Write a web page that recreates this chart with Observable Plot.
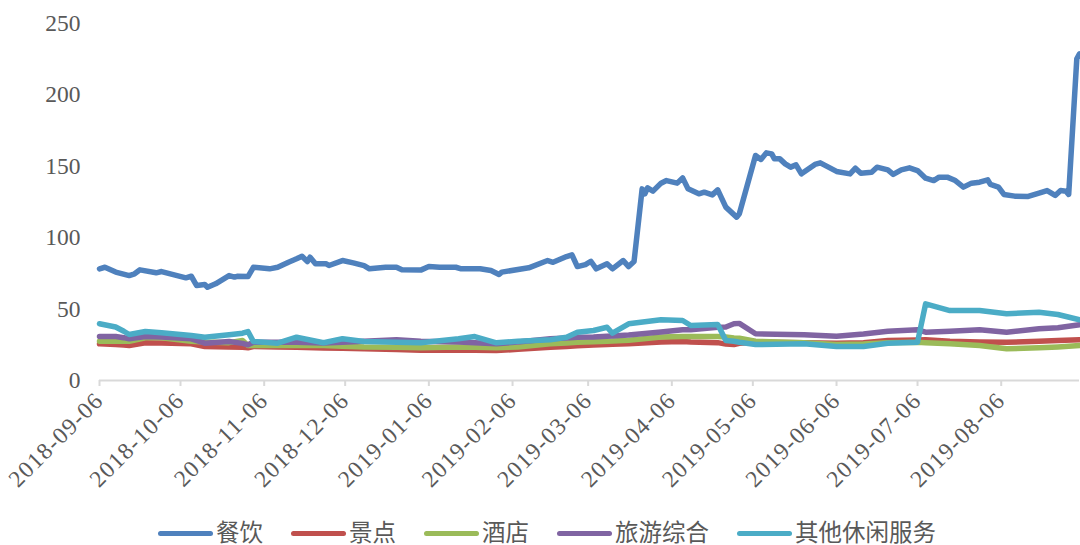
<!DOCTYPE html>
<html>
<head>
<meta charset="utf-8">
<script src="https://cdn.jsdelivr.net/npm/d3@7"></script>
<script src="https://cdn.jsdelivr.net/npm/@observablehq/plot@0.6"></script>
<style>
  body { margin: 0; background: #fff; width: 1080px; font-family: "Liberation Serif", "Noto Sans CJK SC", serif; }
  #legend { display: flex; justify-content: center; align-items: center; margin-top: 14px; padding-left: 14px; font-size: 23.5px; color: #595959; line-height: 28px; }
  .item { display: flex; align-items: center; margin: 0 14px; }
  .sw { width: 55px; height: 5px; border-radius: 3px; margin-right: 3px; }
  .xt text { letter-spacing: 1.3px; }
</style>
</head>
<body>
<div id="chart"></div>
<div id="legend"></div>
<script>
const seriesNames = ["餐饮", "景点", "酒店", "旅游综合", "其他休闲服务"];
const seriesColors = ["#4F81BD", "#C0504D", "#9BBB59", "#8064A2", "#4BACC6"];
const yTicks = [0, 50, 100, 150, 200, 250];
const xTickLabels = ["2018-09-06","2018-10-06","2018-11-06","2018-12-06","2019-01-06","2019-02-06","2019-03-06","2019-04-06","2019-05-06","2019-06-06","2019-07-06","2019-08-06"];

const diningDates = ["2018-09-06","2018-09-08","2018-09-12","2018-09-17","2018-09-19","2018-09-21","2018-09-27","2018-09-29","2018-10-08","2018-10-10","2018-10-12","2018-10-15","2018-10-16","2018-10-19","2018-10-24","2018-10-26","2018-10-27","2018-10-31","2018-11-02","2018-11-08","2018-11-11","2018-11-15","2018-11-18","2018-11-20","2018-11-22","2018-11-23","2018-11-25","2018-11-29","2018-11-30","2018-12-05","2018-12-09","2018-12-13","2018-12-15","2018-12-21","2018-12-25","2018-12-27","2019-01-03","2019-01-06","2019-01-10","2019-01-16","2019-01-18","2019-01-25","2019-01-29","2019-02-01","2019-02-02","2019-02-12","2019-02-19","2019-02-21","2019-02-26","2019-02-28","2019-03-02","2019-03-05","2019-03-07","2019-03-09","2019-03-13","2019-03-15","2019-03-19","2019-03-21","2019-03-23","2019-03-26","2019-03-27","2019-03-28","2019-03-30","2019-04-02","2019-04-04","2019-04-08","2019-04-10","2019-04-12","2019-04-16","2019-04-18","2019-04-21","2019-04-23","2019-04-26","2019-04-30","2019-05-01","2019-05-07","2019-05-09","2019-05-11","2019-05-13","2019-05-14","2019-05-16","2019-05-18","2019-05-20","2019-05-22","2019-05-24","2019-05-29","2019-05-31","2019-06-03","2019-06-06","2019-06-11","2019-06-13","2019-06-15","2019-06-19","2019-06-21","2019-06-25","2019-06-27","2019-06-30","2019-07-03","2019-07-06","2019-07-09","2019-07-12","2019-07-14","2019-07-17","2019-07-20","2019-07-23","2019-07-26","2019-07-29","2019-08-01","2019-08-02","2019-08-05","2019-08-07","2019-08-11","2019-08-16","2019-08-20","2019-08-23","2019-08-26","2019-08-28","2019-08-30","2019-08-31","2019-09-03","2019-09-04"];
const diningValues = [78.2,79.3,75.9,73.5,74.7,77.5,75.4,76.3,71.9,73,66.5,67.2,65.3,67.7,73.5,72.4,73,72.8,79.3,78.2,79.3,82.8,85.2,87,83.3,86.3,81.7,81.7,80.5,84,82.4,80.5,78.2,79.3,79.3,77.5,77.3,79.8,79.3,79.3,78.2,78.2,77,74.2,75.9,78.9,84,82.8,86.8,88,79.8,81.2,83.5,78.2,81.7,78.2,84,79.8,83.3,134.2,130.7,134.9,132.6,138.2,140,138.2,141.9,134.2,130.7,131.9,130,133.5,121.4,114.4,116.7,157.6,154.8,159.4,158.7,155.2,155.2,151.7,149.4,151,144.7,151.3,152.4,149.4,146.4,144.7,148.7,145.2,145.9,149.4,147.5,144.3,147.5,148.9,147,141.7,140,142.4,142.4,140,135.4,138.2,138.9,140.5,137.3,135.4,130.3,129.1,128.9,131.2,133,129.6,133,132.6,130.3,225.3,228.7];

const otherDates = ["2018-09-06","2018-09-12","2018-09-15","2018-09-17","2018-09-23","2018-09-29","2018-10-10","2018-10-15","2018-10-24","2018-10-29","2018-10-31","2018-11-02","2018-11-11","2018-11-18","2018-11-28","2018-12-05","2018-12-13","2018-12-25","2019-01-03","2019-01-17","2019-01-23","2019-01-31","2019-02-08","2019-02-20","2019-02-26","2019-03-02","2019-03-08","2019-03-13","2019-03-15","2019-03-21","2019-04-02","2019-04-10","2019-04-13","2019-04-23","2019-04-26","2019-04-29","2019-05-01","2019-05-07","2019-05-25","2019-06-06","2019-06-16","2019-06-25","2019-07-06","2019-07-09","2019-07-18","2019-07-29","2019-08-08","2019-08-20","2019-08-27","2019-09-04"];
const scenicValues = [25.7,25.2,24.8,24.5,26.4,26.2,25.7,23.8,23.5,23.2,22.9,23.8,23.5,23.3,22.8,22.5,22.2,21.7,21.2,21.2,21.2,21,21.8,23.3,23.8,24.3,24.8,25.2,25.3,25.7,27,27.3,27,26.5,25.5,25.2,26,26.8,26.5,26.1,26.5,28,28.3,28.5,27.5,27,26.8,27.5,28,28.5];
const hotelValues = [27.5,27.5,27.5,27.5,29.9,29.9,27.5,27,26.5,28,24.5,24.5,24.5,24.5,24.5,24,23.5,23.3,23,23.5,23.3,22.9,23.5,25.7,26.3,26.8,27.2,27.5,27.6,28.2,30.5,30.8,30.8,30.8,30.5,29.8,29.6,27.5,26.5,25.2,25.5,26.5,26.8,26.5,25.7,24.5,22.2,22.9,23.5,24.5];
const tourValues = [30.8,30.8,30,29.2,30.8,30.5,29.2,26.1,27.3,26,25,26.8,26.8,26.8,26.2,26.8,27.5,28.5,27.5,27,26.4,25.7,27,29.2,29.8,30.3,30.5,31,31.2,31.8,34,35.5,35.5,37.3,37.5,39.7,40,32.7,32,31,32.5,34.5,35.5,33.8,34.5,35.5,33.8,36.2,37,39];
const leisureValues = [39.7,37.5,34.5,32.2,34.3,33.4,31.5,30.3,32,33.1,34.3,27.3,26.1,30.3,26.4,29.2,27.3,26.8,26.4,29.2,30.8,26.4,27.5,28.5,30.3,33.8,35,37.3,33.1,39.7,42.5,42,38.5,39.2,28,27.5,26.8,25.2,25.7,23.8,23.8,26.1,26.8,53.7,49,49,46.7,47.8,46.2,42.5];

const parse = d3.utcParse("%Y-%m-%d");
const rows = [];
diningDates.forEach((d, i) => rows.push({series: seriesNames[0], date: parse(d), value: diningValues[i]}));
[scenicValues, hotelValues, tourValues, leisureValues].forEach((vals, k) => {
  otherDates.forEach((d, i) => rows.push({series: seriesNames[k + 1], date: parse(d), value: vals[i]}));
});

const font = '"Liberation Serif", "Noto Sans CJK SC", serif';
const chart = Plot.plot({
  width: 1080,
  height: 505,
  marginLeft: 99,
  marginRight: 1,
  marginTop: 23,
  marginBottom: 125,
  style: {fontFamily: font, fontSize: "23.5px", color: "#595959", background: "#fff"},
  x: {type: "utc", domain: [parse("2018-09-06"), parse("2019-09-04")]},
  y: {domain: [0, 250]},
  color: {domain: seriesNames, range: seriesColors},
  marks: [
    Plot.ruleY([0], {stroke: "#d9d9d9", strokeWidth: 2}),
    Plot.axisX({ticks: xTickLabels.map(parse), tickFormat: d3.utcFormat("%Y-%m-%d"), tickRotate: -45, tickSize: 6, tickPadding: 10, stroke: "#d9d9d9", strokeWidth: 2, strokeOpacity: 1, fill: "#595959", fontSize: 23.5, label: null, className: "xt"}),
    Plot.axisY({ticks: yTicks, tickSize: 0, tickPadding: 19, fill: "#595959", fontSize: 23.5, label: null}),
    Plot.line(rows, {x: "date", y: "value", z: "series", stroke: "series", strokeWidth: 5.5, strokeLinejoin: "round", strokeLinecap: "round"})
  ]
});
document.getElementById("chart").appendChild(chart);

const legend = document.getElementById("legend");
seriesNames.forEach((n, i) => {
  const it = document.createElement("div");
  it.className = "item";
  const sw = document.createElement("span");
  sw.className = "sw";
  sw.style.background = seriesColors[i];
  const tx = document.createElement("span");
  tx.textContent = n;
  it.appendChild(sw); it.appendChild(tx);
  legend.appendChild(it);
});
</script>
</body>
</html>
